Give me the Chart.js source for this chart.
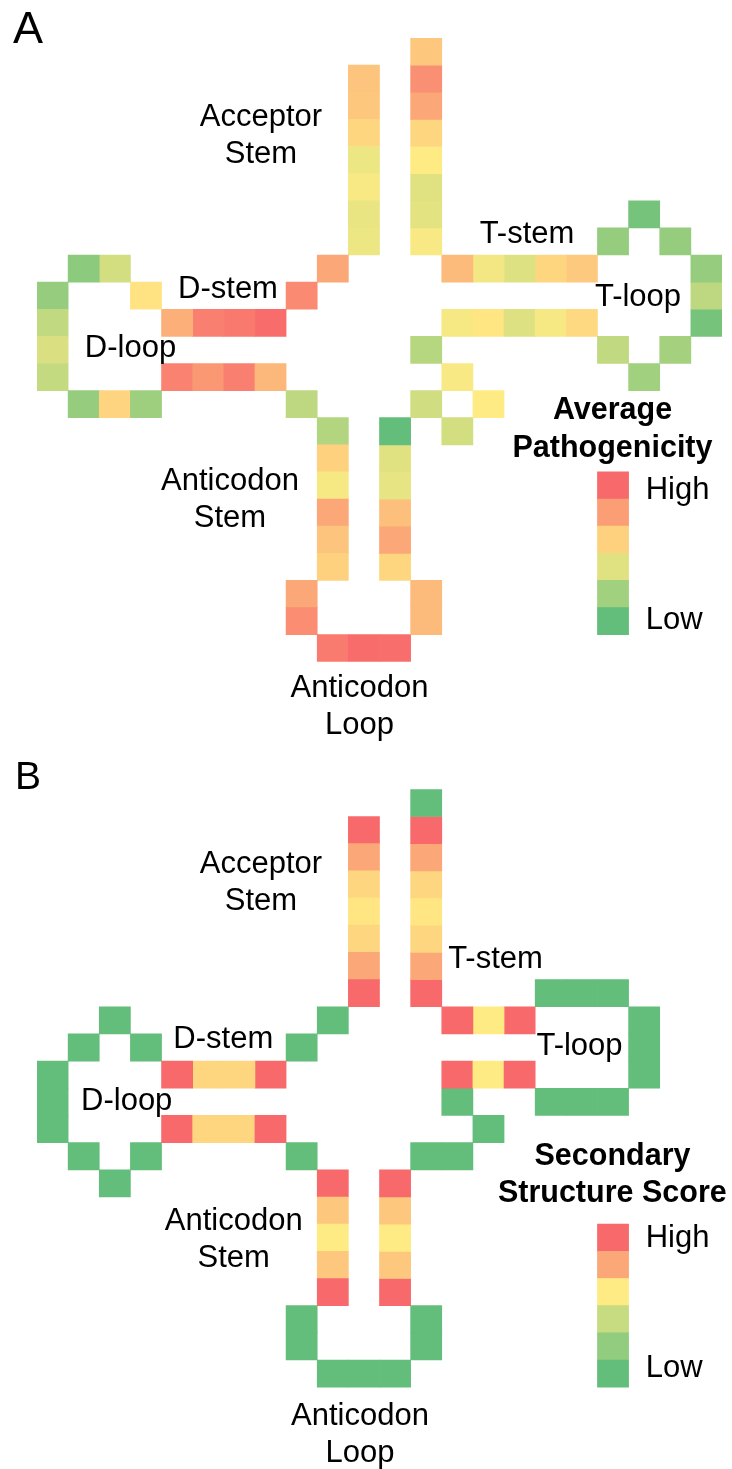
<!DOCTYPE html>
<html>
<head>
<meta charset="utf-8">
<script src="https://cdn.jsdelivr.net/npm/chart.js@4.4.0/dist/chart.umd.min.js"></script>
<style>
  html, body { margin: 0; padding: 0; background: #fff; }
  .panel { position: absolute; left: 0; width: 732px; }
  #wrapA { top: 0; height: 751px; }
  #wrapB { top: 751px; height: 718px; }
</style>
</head>
<body>
<div class="panel" id="wrapA"><canvas id="chartA"></canvas></div>
<div class="panel" id="wrapB"><canvas id="chartB"></canvas></div>
<script>
// values are 0 = low ... 1 = high, listed 5' -> 3' inside each domain

// A: average pathogenicity
const pathAcceptor5 = [0.65, 0.64, 0.58, 0.44, 0.48, 0.43, 0.44];
const pathDArm = [0.76, 0.87, 0.99, 0.94, 0.91, 0.73, 0.53, 0.36, 0.13, 0.16, 0.30,
                  0.38, 0.31, 0.16, 0.59, 0.19, 0.90, 0.82, 0.91, 0.70, 0.29];
const pathAnticodonArm = [0.26, 0.60, 0.47, 0.76, 0.65, 0.60, 0.76, 0.86, 0.93, 0.99,
                          0.98, 0.69, 0.69, 0.58, 0.76, 0.67, 0.42, 0.40, 0.00];
const pathVariable = [0.35, 0.36, 0.50, 0.48, 0.27];
const pathTArm = [0.47, 0.52, 0.39, 0.47, 0.57, 0.30, 0.20, 0.21, 0.06, 0.29,
                  0.16, 0.16, 0.06, 0.16, 0.63, 0.58, 0.39, 0.46, 0.69];
const pathAcceptor3 = [0.48, 0.41, 0.40, 0.50, 0.58, 0.76, 0.85, 0.64];

// B: secondary structure score
const ssAcceptor5 = [1.00, 0.76, 0.58, 0.52, 0.58, 0.76, 1.00];
const ssDArm = [0, 0, 1.00, 0.58, 0.58, 1.00, 0, 0, 0, 0, 0, 0, 0, 0, 0,
                1.00, 0.58, 0.58, 1.00, 0];
const ssAnticodonArm = [1.00, 0.64, 0.50, 0.64, 1.00, 0, 0, 0, 0, 0, 0, 0,
                        1.00, 0.64, 0.50, 0.64, 1.00];
const ssVariable = [0, 0, 0, 0];
const ssTArm = [1.00, 0.50, 1.00, 0, 0, 0, 0, 0, 0, 0, 0, 0, 1.00, 0.50, 1.00];
const ssAcceptor3 = [1.00, 0.76, 0.58, 0.52, 0.58, 0.76, 1.00, 0];

// colour key swatches, High -> Low
const legendPath = [1.0, 0.8, 0.6, 0.4, 0.2, 0.0];
const legendSS = [1.0, 0.76, 0.5, 0.32, 0.15, 0.0];

// grid of the cloverleaf drawing
const columns = Array.from({ length: 22 }, (_, i) => String(i));
const N_ROWS = 23;
const KEY_COL = 18, KEY_ROW = 16;

function col(c, r0, r1) {
  const out = [], s = r1 >= r0 ? 1 : -1;
  for (let r = r0; r !== r1 + s; r += s) out.push([c, r]);
  return out;
}
function row(r, c0, c1) {
  const out = [], s = c1 >= c0 ? 1 : -1;
  for (let c = c0; c !== c1 + s; c += s) out.push([c, r]);
  return out;
}

// cell addresses [column, row] per domain, same order as the values
const layoutA = [
  col(10, 1, 7),
  [[9, 8], [8, 9], ...row(10, 7, 4), [3, 9], [2, 8], [1, 8], ...col(0, 9, 12),
   ...row(13, 1, 3), ...row(12, 4, 7), [8, 13]],
  [...col(9, 14, 19), ...col(8, 20, 21), ...row(22, 9, 11), ...col(12, 21, 20), ...col(11, 19, 14)],
  [[12, 13], [13, 14], [14, 13], [13, 12], [12, 11]],
  [...row(10, 13, 17), [18, 11], [19, 12], [20, 11], ...col(21, 10, 8), [20, 7], [19, 6], [18, 7],
   ...row(8, 17, 13)],
  col(12, 7, 0)
];
const layoutB = [
  col(10, 1, 7),
  [[9, 8], [8, 9], ...row(10, 7, 4), [3, 9], [2, 8], [1, 9], ...col(0, 10, 12),
   [1, 13], [2, 14], [3, 13], ...row(12, 4, 7), [8, 13]],
  [...col(9, 14, 18), ...col(8, 19, 20), ...row(21, 9, 11), ...col(12, 20, 19), ...col(11, 18, 14)],
  [[12, 13], [13, 13], [14, 12], [13, 11]],
  [...row(10, 13, 15), ...row(11, 16, 18), ...col(19, 10, 8), ...row(7, 18, 16), ...row(8, 15, 13)],
  col(12, 7, 0)
];

const LOW = [99, 190, 123], MID = [255, 235, 132], HIGH = [248, 105, 107];
function heat(v) {
  const a = v < 0.5 ? LOW : MID, b = v < 0.5 ? MID : HIGH;
  const t = v < 0.5 ? v / 0.5 : (v - 0.5) / 0.5;
  const c = a.map((x, i) => Math.round(x + (b[i] - x) * t));
  return 'rgb(' + c.join(',') + ')';
}

function toCells(layout, values) {
  const cells = [];
  layout.forEach((cellsOfDomain, d) => {
    cellsOfDomain.forEach(([c, r], k) => {
      cells.push({ x: String(c), y: [r, r + 1], v: values[d][k] });
    });
  });
  return cells;
}
function keyCells(values) {
  return values.map((v, i) => ({ x: String(KEY_COL), y: [KEY_ROW + i, KEY_ROW + i + 1], v }));
}

const REG = '31px "Liberation Sans", Arial, sans-serif';
const BOLD = 'bold 30.5px "Liberation Sans", Arial, sans-serif';

const textA = [
  { text: 'A', x: 13, y: 42.7, font: '45px "Liberation Sans", Arial, sans-serif', align: 'left' },
  { text: 'Acceptor', x: 261, y: 126 }, { text: 'Stem', x: 261, y: 162.7 },
  { text: 'D-stem', x: 228, y: 297.7 },
  { text: 'D-loop', x: 130.5, y: 357.3 },
  { text: 'T-stem', x: 527, y: 243.3 },
  { text: 'T-loop', x: 638, y: 306 },
  { text: 'Anticodon', x: 230, y: 490 }, { text: 'Stem', x: 230, y: 526.7 },
  { text: 'Anticodon', x: 359.5, y: 697 }, { text: 'Loop', x: 359.5, y: 734 },
  { text: 'Average', x: 612.5, y: 419.3, font: BOLD },
  { text: 'Pathogenicity', x: 612.5, y: 456.7, font: BOLD },
  { text: 'High', x: 645.7, y: 499.3, align: 'left' },
  { text: 'Low', x: 645.7, y: 629.3, align: 'left' }
];
const textB = [
  { text: 'B', x: 15, y: 38.3, font: '39px "Liberation Sans", Arial, sans-serif', align: 'left' },
  { text: 'Acceptor', x: 261, y: 121.7 }, { text: 'Stem', x: 261, y: 159 },
  { text: 'D-stem', x: 223.3, y: 297.3 },
  { text: 'D-loop', x: 126.7, y: 359 },
  { text: 'T-stem', x: 495.5, y: 217.3 },
  { text: 'T-loop', x: 579.5, y: 304 },
  { text: 'Anticodon', x: 233.7, y: 479 }, { text: 'Stem', x: 233.7, y: 515.7 },
  { text: 'Anticodon', x: 360, y: 674 }, { text: 'Loop', x: 360, y: 710.7 },
  { text: 'Secondary', x: 612.5, y: 414, font: BOLD },
  { text: 'Structure Score', x: 612.3, y: 450.7, font: BOLD },
  { text: 'High', x: 645.7, y: 495.7, align: 'left' },
  { text: 'Low', x: 645.7, y: 625.7, align: 'left' }
];

function textPlugin(items) {
  return {
    id: 'panelText',
    afterDraw(chart) {
      const ctx = chart.ctx;
      ctx.save();
      ctx.fillStyle = '#000';
      ctx.textBaseline = 'alphabetic';
      items.forEach(t => {
        ctx.font = t.font || REG;
        ctx.textAlign = t.align || 'center';
        ctx.fillText(t.text, t.x, t.y);
      });
      ctx.restore();
    }
  };
}

function makeChart(id, cells, key, items, padding) {
  const fill = c => heat(c.raw ? c.raw.v : 0);
  return new Chart(document.getElementById(id), {
    type: 'bar',
    data: {
      labels: columns,
      datasets: [
        { label: 'cells', data: cells, backgroundColor: fill },
        { label: 'key', data: key, backgroundColor: fill }
      ]
    },
    options: {
      responsive: true,
      maintainAspectRatio: false,
      animation: false,
      layout: { padding: padding },
      datasets: {
        bar: {
          grouped: false,
          barPercentage: 1,
          categoryPercentage: 1,
          borderWidth: 0
        }
      },
      plugins: { legend: { display: false }, tooltip: { enabled: false } },
      scales: {
        x: { display: false },
        y: { display: false, reverse: true, min: 0, max: N_ROWS }
      }
    },
    plugins: [textPlugin(items)]
  });
}

makeChart('chartA',
  toCells(layoutA, [pathAcceptor5, pathDArm, pathAnticodonArm, pathVariable, pathTArm, pathAcceptor3]),
  keyCells(legendPath), textA,
  { left: 37, right: 10, top: 38, bottom: 89.2 });

makeChart('chartB',
  toCells(layoutB, [ssAcceptor5, ssDArm, ssAnticodonArm, ssVariable, ssTArm, ssAcceptor3]),
  keyCells(legendSS), textB,
  { left: 37, right: 10, top: 38.3, bottom: 54.6 });
</script>
</body>
</html>
